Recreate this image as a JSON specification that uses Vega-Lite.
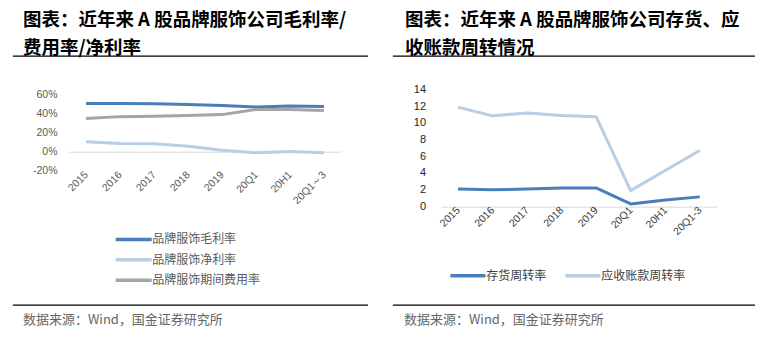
{
  "$schema": "https://vega.github.io/schema/vega-lite/v6.json",
  "padding": {"left": 12, "top": 9.7, "right": 0, "bottom": 0},
  "background": "#ffffff",
  "config": {
    "font": "Noto Sans CJK SC",
    "view": {"stroke": null}
  },
  "datasets": {
    "note": [{"t": ""}],
    "margin": [
      {"period": "2015", "series": "品牌服饰毛利率", "value": 0.502},
      {"period": "2016", "series": "品牌服饰毛利率", "value": 0.502},
      {"period": "2017", "series": "品牌服饰毛利率", "value": 0.500},
      {"period": "2018", "series": "品牌服饰毛利率", "value": 0.491},
      {"period": "2019", "series": "品牌服饰毛利率", "value": 0.481},
      {"period": "20Q1", "series": "品牌服饰毛利率", "value": 0.466},
      {"period": "20H1", "series": "品牌服饰毛利率", "value": 0.477},
      {"period": "20Q1～3", "series": "品牌服饰毛利率", "value": 0.470},
      {"period": "2015", "series": "品牌服饰净利率", "value": 0.102},
      {"period": "2016", "series": "品牌服饰净利率", "value": 0.085},
      {"period": "2017", "series": "品牌服饰净利率", "value": 0.083},
      {"period": "2018", "series": "品牌服饰净利率", "value": 0.055},
      {"period": "2019", "series": "品牌服饰净利率", "value": 0.015},
      {"period": "20Q1", "series": "品牌服饰净利率", "value": -0.013},
      {"period": "20H1", "series": "品牌服饰净利率", "value": 0.002},
      {"period": "20Q1～3", "series": "品牌服饰净利率", "value": -0.012},
      {"period": "2015", "series": "品牌服饰期间费用率", "value": 0.345},
      {"period": "2016", "series": "品牌服饰期间费用率", "value": 0.365},
      {"period": "2017", "series": "品牌服饰期间费用率", "value": 0.370},
      {"period": "2018", "series": "品牌服饰期间费用率", "value": 0.377},
      {"period": "2019", "series": "品牌服饰期间费用率", "value": 0.386},
      {"period": "20Q1", "series": "品牌服饰期间费用率", "value": 0.440},
      {"period": "20H1", "series": "品牌服饰期间费用率", "value": 0.440},
      {"period": "20Q1～3", "series": "品牌服饰期间费用率", "value": 0.428}
    ],
    "turnover": [
      {"period": "2015", "series": "存货周转率", "value": 2.08},
      {"period": "2016", "series": "存货周转率", "value": 1.97},
      {"period": "2017", "series": "存货周转率", "value": 2.07},
      {"period": "2018", "series": "存货周转率", "value": 2.2},
      {"period": "2019", "series": "存货周转率", "value": 2.2},
      {"period": "20Q1", "series": "存货周转率", "value": 0.28},
      {"period": "20H1", "series": "存货周转率", "value": 0.75},
      {"period": "20Q1-3", "series": "存货周转率", "value": 1.13},
      {"period": "2015", "series": "应收账款周转率", "value": 11.9},
      {"period": "2016", "series": "应收账款周转率", "value": 10.85},
      {"period": "2017", "series": "应收账款周转率", "value": 11.2},
      {"period": "2018", "series": "应收账款周转率", "value": 10.9},
      {"period": "2019", "series": "应收账款周转率", "value": 10.75},
      {"period": "20Q1", "series": "应收账款周转率", "value": 1.88},
      {"period": "20H1", "series": "应收账款周转率", "value": 4.3},
      {"period": "20Q1-3", "series": "应收账款周转率", "value": 6.7}
    ]
  },
  "columns": 2,
  "align": "none",
  "spacing": {"column": 24, "row": 0},
  "resolve": {"scale": {"color": "independent", "x": "independent", "y": "independent"}, "legend": {"color": "independent"}},
  "concat": [
    {
      "columns": 1,
      "spacing": {"row": 0, "column": 0},
      "resolve": {"scale": {"color": "independent"}, "legend": {"color": "independent"}},
      "concat": [
        {
          "width": 354, "height": 0.01,
          "view": {"stroke": "#000000", "strokeWidth": 1.1},
          "title": {"text": ["图表：近年来 A 股品牌服饰公司毛利率/", "费用率/净利率"], "anchor": "start", "dx": 10, "offset": -2.6, "fontSize": 18.5, "fontWeight": "bold", "color": "#000000", "lineHeight": 27.6},
          "data": {"name": "note"},
          "mark": {"type": "text", "fontSize": 1},
          "encoding": {"text": {"field": "t"}}
        },
        {
          "width": 354, "height": 243.5,
          "data": {"name": "margin"},
          "mark": {"type": "line", "strokeWidth": 3, "strokeJoin": "round"},
          "encoding": {
            "x": {"field": "period", "type": "ordinal", "sort": null, "scale": {"type": "point", "padding": 0.5, "range": [56, 328]},
              "axis": {"title": null, "orient": "bottom", "offset": -131.4, "minExtent": 0, "labelAngle": -45, "labelAlign": "right", "labelBaseline": "middle", "labelPadding": 2, "domain": false, "ticks": false, "labelFontSize": 10.5, "labelColor": "#595959", "labelFont": "Liberation Sans"}},
            "y": {"field": "value", "type": "quantitative", "scale": {"domain": [-0.2, 0.6], "nice": false, "zero": false, "range": [112.1, 35.4]},
              "axis": {"title": null, "orient": "left", "offset": -56, "minExtent": 0, "values": [-0.2, 0, 0.2, 0.4, 0.6], "tickCount": 5, "labelExpr": "round(datum.value*100) + '%'", "labelOverlap": false, "grid": true, "gridColor": "#d9d9d9", "gridWidth": 1, "gridOpacity": {"condition": {"test": "datum.value === 0", "value": 1}, "value": 0}, "domain": false, "ticks": false, "labelPadding": 12, "labelFontSize": 10.5, "labelColor": "#595959", "labelFont": "Liberation Sans"}},
            "color": {"field": "series", "type": "nominal",
              "scale": {"domain": ["品牌服饰毛利率", "品牌服饰净利率", "品牌服饰期间费用率"], "range": ["#4a7ebb", "#b9cde5", "#a5a5a5"]},
              "legend": {"title": null, "orient": "none", "legendX": 112.7, "legendY": 172.7, "direction": "vertical", "symbolType": "M-3,0H3", "symbolSize": 144, "symbolStrokeWidth": 3.5, "labelFontSize": 12, "labelColor": "#595959", "rowPadding": 5.4, "labelOffset": 10.5, "padding": 0}}
          }
        },
        {
          "width": 354, "height": 0.01,
          "view": {"stroke": "#000000", "strokeWidth": 1.1},
          "title": {"text": "数据来源：Wind，国金证券研究所", "orient": "bottom", "anchor": "start", "dx": 10, "offset": 9, "fontSize": 13, "fontWeight": "normal", "color": "#666666"},
          "data": {"name": "note"},
          "mark": {"type": "text", "fontSize": 1},
          "encoding": {"text": {"field": "t"}}
        }
      ]
    },
    {
      "columns": 1,
      "spacing": {"row": 0, "column": 0},
      "resolve": {"scale": {"color": "independent"}, "legend": {"color": "independent"}},
      "concat": [
        {
          "width": 361, "height": 0.01,
          "view": {"stroke": "#000000", "strokeWidth": 1.1},
          "title": {"text": ["图表：近年来 A 股品牌服饰公司存货、应", "收账款周转情况"], "anchor": "start", "dx": 12, "offset": -2.6, "fontSize": 18.5, "fontWeight": "bold", "color": "#000000", "lineHeight": 27.6},
          "data": {"name": "note"},
          "mark": {"type": "text", "fontSize": 1},
          "encoding": {"text": {"field": "t"}}
        },
        {
          "width": 361, "height": 243.5,
          "data": {"name": "turnover"},
          "mark": {"type": "line", "strokeWidth": 3, "strokeJoin": "round"},
          "encoding": {
            "x": {"field": "period", "type": "ordinal", "sort": null, "scale": {"type": "point", "padding": 0.5, "range": [47.7, 324]},
              "axis": {"title": null, "orient": "bottom", "offset": -95.9, "minExtent": 0, "labelAngle": -45, "labelAlign": "right", "labelBaseline": "middle", "labelPadding": 2, "domain": false, "ticks": false, "labelFontSize": 10.5, "labelColor": "#404040", "labelFont": "Liberation Sans"}},
            "y": {"field": "value", "type": "quantitative", "scale": {"domain": [0, 14], "nice": false, "range": [147.6, 30.9]},
              "axis": {"title": null, "orient": "left", "offset": -47.7, "minExtent": 0, "values": [0, 2, 4, 6, 8, 10, 12, 14], "tickCount": 8, "labelOverlap": false, "grid": true, "gridColor": "#d9d9d9", "gridWidth": 1, "gridOpacity": {"condition": {"test": "datum.value === 0", "value": 1}, "value": 0}, "domain": false, "ticks": false, "labelPadding": 15.2, "labelFontSize": 11, "labelColor": "#262626", "labelFont": "Liberation Sans"}},
            "color": {"field": "series", "type": "nominal",
              "scale": {"domain": ["存货周转率", "应收账款周转率"], "range": ["#4a7ebb", "#b9cde5"]},
              "legend": {"title": null, "orient": "none", "legendX": 55.4, "legendY": 197.4, "direction": "horizontal", "symbolType": "stroke", "symbolSize": 1225, "symbolStrokeWidth": 3.5, "labelFontSize": 12, "labelColor": "#404040", "columnPadding": 12, "labelOffset": -1.1, "padding": 0}}
          }
        },
        {
          "width": 361, "height": 0.01,
          "view": {"stroke": "#000000", "strokeWidth": 1.1},
          "title": {"text": "数据来源：Wind，国金证券研究所", "orient": "bottom", "anchor": "start", "dx": 11, "offset": 9, "fontSize": 13, "fontWeight": "normal", "color": "#666666"},
          "data": {"name": "note"},
          "mark": {"type": "text", "fontSize": 1},
          "encoding": {"text": {"field": "t"}}
        }
      ]
    }
  ]
}
